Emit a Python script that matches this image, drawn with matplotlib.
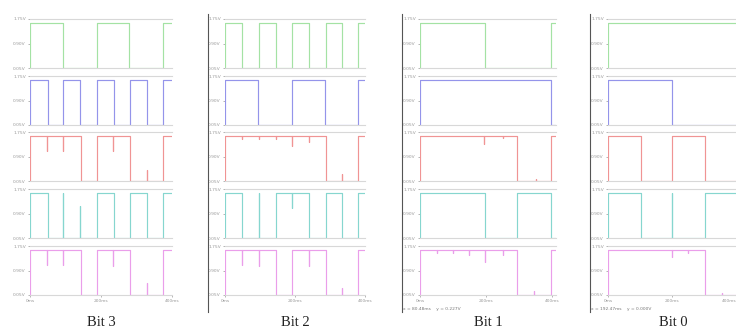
import numpy as np
import matplotlib
matplotlib.use('Agg')
import matplotlib.pyplot as plt
from matplotlib.lines import Line2D

# step signals: (time ms, volts) vertices, drawn with steps-post
# Bit 3
bit3_green = [(0, .05), (0, 1.6), (92, .05), (189, 1.6), (279, .05), (375, 1.6), (400, 1.6)]
bit3_blue = [(0, .05), (0, 1.6), (50, .05), (94, 1.6), (141, .05), (188, 1.6), (237, .05),
             (282, 1.6), (329, .05), (375, 1.6), (400, 1.6)]
bit3_red = [(0, .05), (0, 1.6), (47, 1.1), (47, 1.6), (94, 1.1), (94, 1.6), (143, .05), (188, 1.6),
            (234, 1.1), (234, 1.6), (282, .05), (329, 0.42), (329, .05), (375, 1.6), (400, 1.6)]
bit3_cyan = [(0, .05), (0, 1.6), (50, .05), (94, 1.6), (94, .05), (141, 1.15), (141, .05), (188, 1.6),
             (237, .05), (282, 1.6), (329, .05), (375, 1.6), (400, 1.6)]
bit3_magenta = [(0, .05), (0, 1.6), (47, 1.08), (47, 1.6), (94, 1.08), (94, 1.6), (143, .05), (188, 1.6),
                (234, 1.05), (234, 1.6), (282, .05), (329, 0.45), (329, .05), (375, 1.6), (400, 1.6)]

# Bit 2
bit2_green = [(0, .05), (0, 1.6), (49, .05), (97, 1.6), (145, .05), (192, 1.6), (240, .05),
              (288, 1.6), (334, .05), (381, 1.6), (400, 1.6)]
bit2_blue = [(0, .05), (0, 1.6), (95, .05), (190, 1.6), (286, .05), (381, 1.6), (400, 1.6)]
bit2_red = [(0, .05), (0, 1.6), (49, 1.5), (49, 1.6), (97, 1.5), (97, 1.6), (145, 1.5), (145, 1.6),
            (192, 1.25), (192, 1.6), (240, 1.42), (240, 1.6), (288, .05), (334, 0.3), (334, .05),
            (381, 1.6), (400, 1.6)]
bit2_cyan = [(0, .05), (0, 1.6), (49, .05), (97, 1.6), (97, .05), (145, 1.6), (192, 1.1), (192, 1.6),
             (240, .05), (288, 1.6), (334, .05), (381, 1.6), (400, 1.6)]
bit2_magenta = [(0, .05), (0, 1.6), (49, 1.1), (49, 1.6), (97, 1.05), (97, 1.6), (145, .05), (192, 1.6),
                (240, 1.05), (240, 1.6), (288, .05), (334, 0.3), (334, .05), (381, 1.6), (400, 1.6)]

# Bit 1
bit1_green = [(0, .05), (0, 1.6), (197, .05), (397, 1.6), (412, 1.6)]
bit1_blue = [(0, .05), (0, 1.6), (397, .05), (412, .05)]
bit1_red = [(0, .05), (0, 1.6), (195, 1.35), (195, 1.6), (250, 1.55), (250, 1.6), (295, .05),
            (351, 0.12), (351, .05), (397, 1.6), (412, 1.6)]
bit1_cyan = [(0, .05), (0, 1.6), (197, .05), (295, 1.6), (397, .05), (412, .05)]
bit1_magenta = [(0, .05), (0, 1.6), (50, 1.5), (50, 1.6), (100, 1.5), (100, 1.6), (148, 1.45), (148, 1.6),
                (198, 1.2), (198, 1.6), (250, 1.45), (250, 1.6), (295, .05), (345, 0.2), (345, .05),
                (397, 1.6), (412, 1.6)]

# Bit 0
bit0_green = [(0, .05), (0, 1.6), (400, 1.6)]
bit0_blue = [(0, .05), (0, 1.6), (200, .05), (400, .05)]
bit0_red = [(0, .05), (0, 1.6), (104, .05), (200, 1.6), (304, .05), (400, .05)]
bit0_cyan = [(0, .05), (0, 1.6), (104, .05), (200, 1.6), (200, .05), (304, 1.6), (400, 1.6)]
bit0_magenta = [(0, .05), (0, 1.6), (200, 1.36), (200, 1.6), (251, 1.5), (251, 1.6), (304, .05),
                (355, 0.12), (355, .05), (400, .05)]

captions = ['Bit 3', 'Bit 2', 'Bit 1', 'Bit 0']
ytick_vals = [0.05, 0.90, 1.75]
ytick_labels = ['0.05V', '0.90V', '1.75V']
xtick_vals = [0, 200, 400]
xtick_labels = ['0ms', '200ms', '400ms']
readouts = [None, None, 'x = 80.48ms    y = 0.227V', 'x = 192.47ms    y = 0.000V']

colors = ['#a4e2a4', '#9494ea', '#f09494', '#86d6cf', '#ea9eea']

W, H = 736, 329
fig = plt.figure(figsize=(W / 100, H / 100), dpi=100)

# panel layout in pixels: plot left, plot right, x limit, axis-line x
panels = [
    ([bit3_green, bit3_blue, bit3_red, bit3_cyan, bit3_magenta], 30, 172, 400, None),
    ([bit2_green, bit2_blue, bit2_red, bit2_cyan, bit2_magenta], 225, 365, 400, 208),
    ([bit1_green, bit1_blue, bit1_red, bit1_cyan, bit1_magenta], 420, 556, 412, 402),
    ([bit0_green, bit0_blue, bit0_red, bit0_cyan, bit0_magenta], 608, 736, 400, 590),
]
row_tops = [19, 76, 132, 189, 246]
row_h = 49

for p, (signals, left, right, xmax, vline) in enumerate(panels):
    for r, sig in enumerate(signals):
        top = row_tops[r]
        ax = fig.add_axes([left / W, 1 - (top + row_h) / H, (right - left) / W, row_h / H])
        t = [s[0] for s in sig]
        v = [s[1] for s in sig]
        ax.plot(t, v, drawstyle='steps-post', color=colors[r], lw=0.85)
        ax.set_xlim(0, xmax)
        ax.set_ylim(0.05, 1.75)
        for side in ['left', 'right']:
            ax.spines[side].set_visible(False)
        for side in ['top', 'bottom']:
            ax.spines[side].set_color('#d8d8d8')
            ax.spines[side].set_linewidth(0.8)
        ax.set_yticks(ytick_vals)
        ax.set_yticklabels(ytick_labels, fontsize=3.2, color='#888888')
        ax.tick_params(axis='y', length=1.5, width=0.5, pad=1.5, colors='#999999')
        if r == 4:
            ax.set_xticks(xtick_vals)
            ax.set_xticklabels(xtick_labels, fontsize=3.2, color='#888888')
            ax.tick_params(axis='x', length=1.5, width=0.5, pad=1.5, colors='#999999')
            if p == 3:
                # last label sits at the picture edge
                ax.get_xticklabels()[-1].set_ha('right')
        else:
            ax.set_xticks([])

    if vline is not None:
        fig.add_artist(Line2D([vline / W, vline / W], [1 - 14 / H, 1 - 312 / H],
                              color='#555555', lw=0.8))
    cx = (left + right) / 2 if p < 3 else 673
    fig.text(cx / W, 1 - 322 / H, captions[p], ha='center', va='center',
             fontsize=10.5, family='Liberation Serif', color='#222222')
    if readouts[p]:
        fig.text((vline + 1) / W, 1 - 309 / H, readouts[p], ha='left', va='center',
                 fontsize=3.2, color='#777777')

fig.savefig('out.png', dpi=100)
